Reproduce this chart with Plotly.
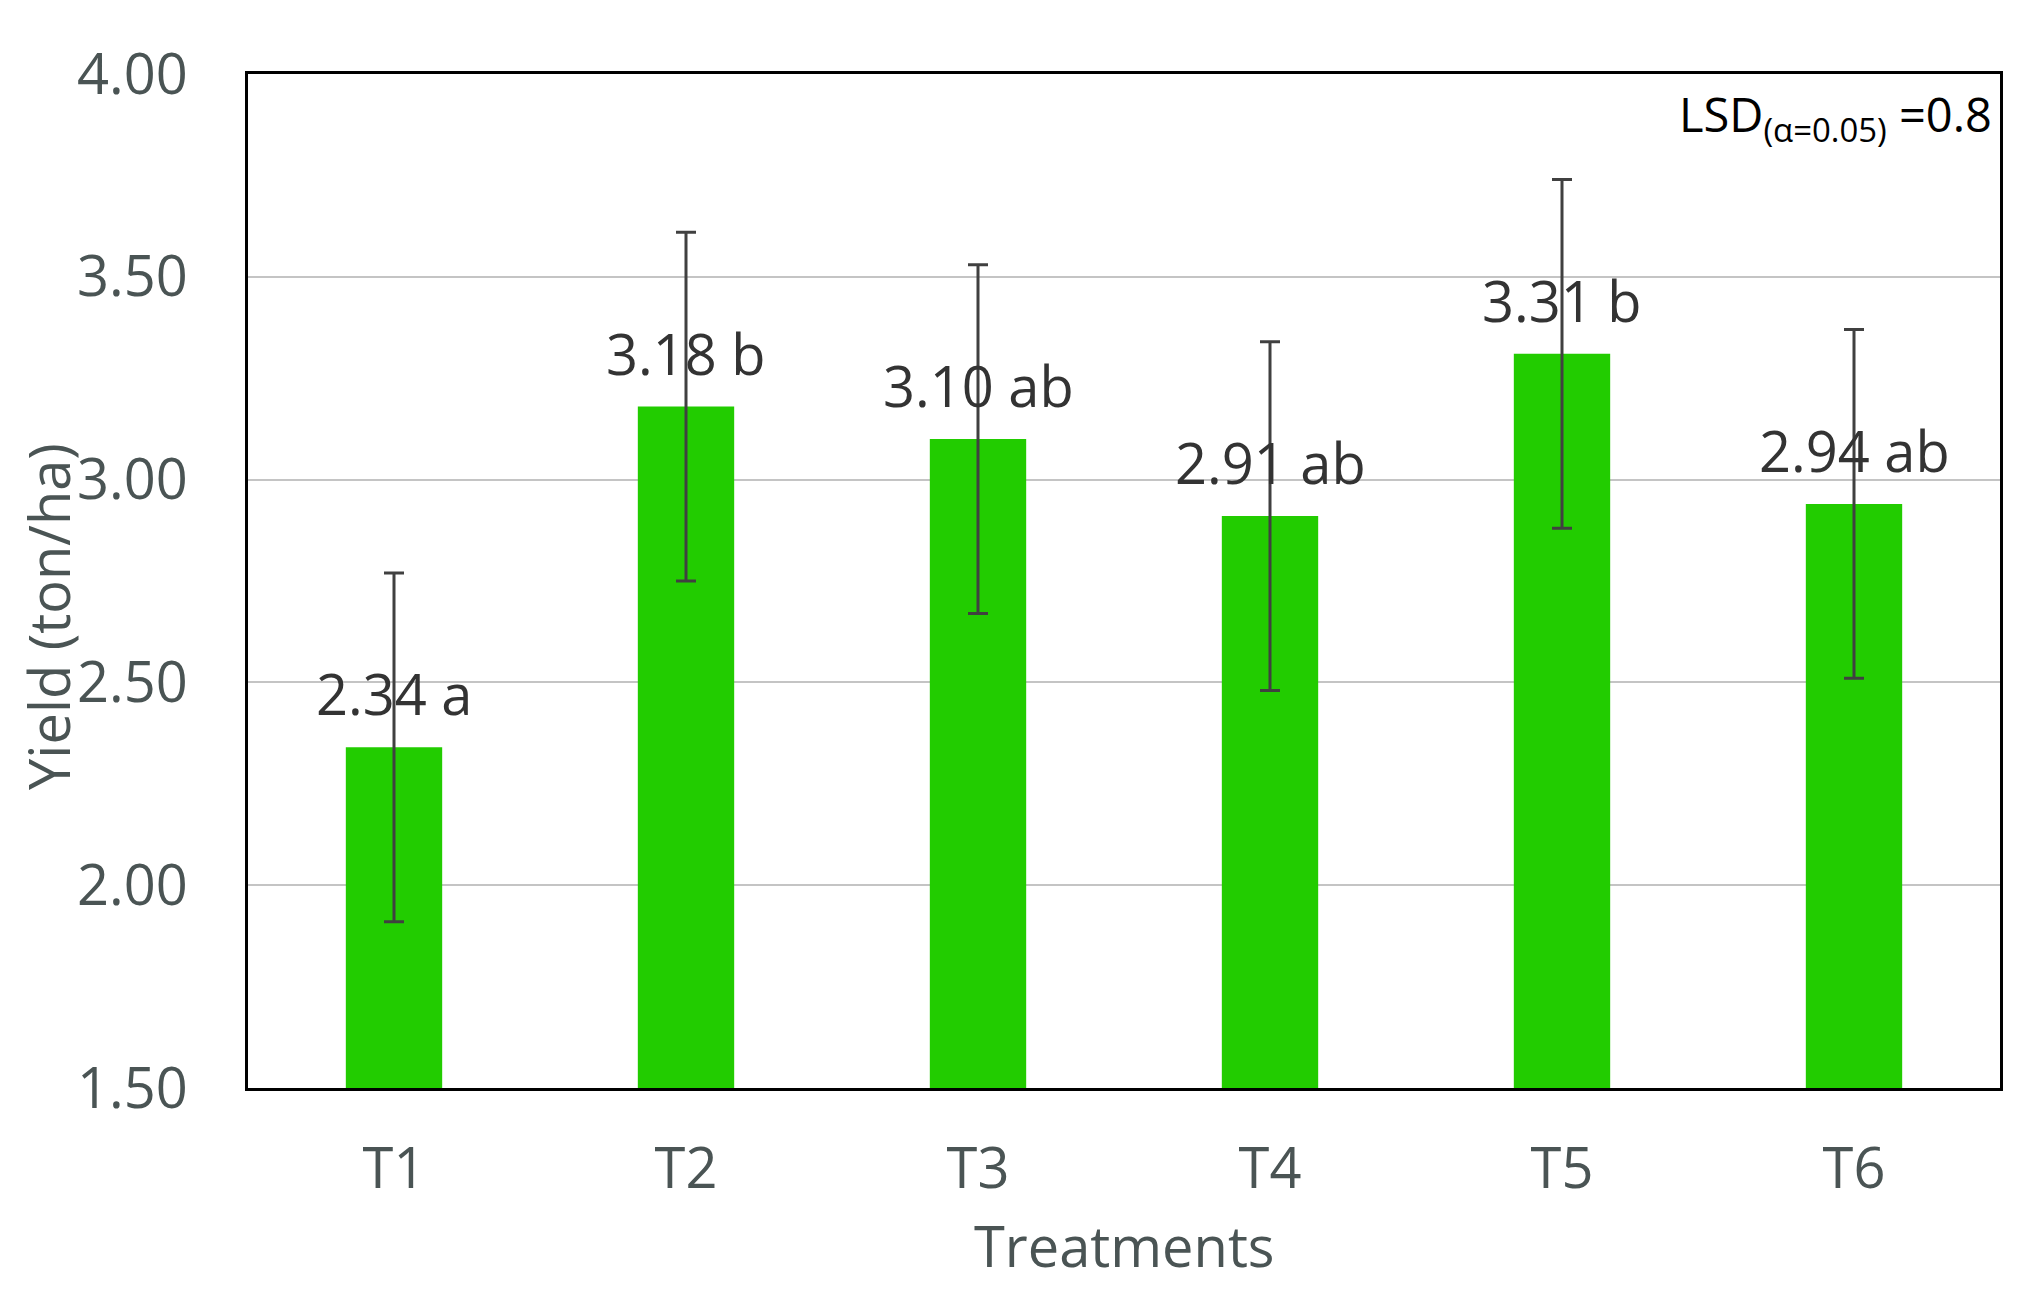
import plotly.graph_objects as go

treatments = ["T1", "T2", "T3", "T4", "T5", "T6"]
yield_mean = [2.34, 3.18, 3.10, 2.91, 3.31, 2.94]
yield_err = [0.43, 0.43, 0.43, 0.43, 0.43, 0.43]
letters = ["a", "b", "ab", "ab", "b", "ab"]
y_ticks = [1.5, 2.0, 2.5, 3.0, 3.5, 4.0]
y_tick_labels = ["1.50", "2.00", "2.50", "3.00", "3.50", "4.00"]

FONT = "Open Sans"
TICK_COLOR = "#4a5454"
LABEL_COLOR = "#333333"

fig = go.Figure()
fig.add_trace(go.Bar(
    x=treatments,
    y=yield_mean,
    base=0,
    width=0.33,
    marker=dict(color="#22cc00", line=dict(width=0)),
    error_y=dict(type="data", array=yield_err, visible=True,
                 color="#404040", thickness=3, width=10),
    showlegend=False,
))

for t, v, l in zip(treatments, yield_mean, letters):
    fig.add_annotation(
        x=t, y=v, xref="x", yref="y", text=f"{v:.2f} {l}",
        showarrow=False, yanchor="middle", yshift=54,
        font=dict(family=FONT, size=56, color=LABEL_COLOR),
    )

fig.add_annotation(
    x=1, y=1, xref="paper", yref="paper", xanchor="right", yanchor="top",
    xshift=-6, yshift=-6,
    text="LSD<sub>(α=0.05)</sub> =0.8", showarrow=False,
    font=dict(family=FONT, size=47, color="#000000"),
)

fig.add_annotation(
    x=0.5, y=0, xref="paper", yref="paper", xanchor="center", yanchor="middle",
    yshift=-157, text="Treatments", showarrow=False,
    font=dict(family=FONT, size=56, color=TICK_COLOR),
)
fig.add_annotation(
    x=0, y=0.5, xref="paper", yref="paper", xanchor="center", yanchor="middle",
    xshift=-200, yshift=-36, textangle=-90, text="Yield (ton/ha)", showarrow=False,
    font=dict(family=FONT, size=56, color=TICK_COLOR),
)

fig.update_layout(
    width=2038, height=1312,
    margin=dict(l=248, r=38, t=74, b=224),
    paper_bgcolor="white", plot_bgcolor="white",
    font=dict(family=FONT, size=56, color=TICK_COLOR),
    bargap=0.67,
)
fig.update_xaxes(
    showline=True, linecolor="black", linewidth=3, mirror=True,
    ticks="", tickfont=dict(family=FONT, size=56, color=TICK_COLOR),
    ticklabelstandoff=30, showgrid=False,
)
fig.update_yaxes(
    range=[1.5, 4.0], tickmode="array", tickvals=y_ticks, ticktext=y_tick_labels,
    showline=True, linecolor="black", linewidth=3, mirror=True,
    ticks="", tickfont=dict(family=FONT, size=56, color=TICK_COLOR),
    ticklabelstandoff=46, showgrid=True, gridcolor="#c4c4c4", gridwidth=2,
    zeroline=False,
)

fig.write_html("out.html")
